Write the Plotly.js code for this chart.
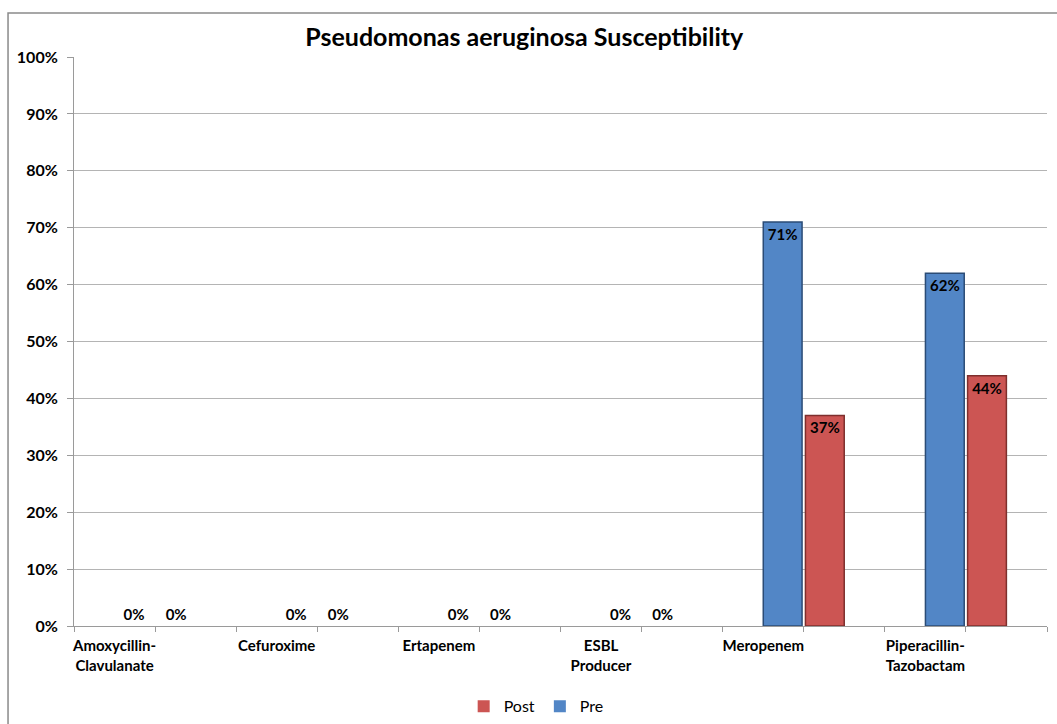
<!DOCTYPE html>
<html>
<head>
<meta charset="utf-8">
<script src="https://cdn.plot.ly/plotly-3.0.1.min.js"></script>
<style>
  body { margin: 0; background: #fff; }
  #chart { width: 1057px; height: 724px; }
</style>
</head>
<body>
<div id="chart"></div>
<script>
// categories sit between the group positions, like the Excel axis
const drugs = ["Amoxycillin-<br>Clavulanate", "Cefuroxime", "Ertapenem", "ESBL<br>Producer", "Meropenem", "Piperacillin-<br>Tazobactam"];
const groupPos = [1, 3, 5, 7, 9, 11];
const labelPos = [0.5, 2.5, 4.5, 6.5, 8.5, 10.5];
const axisTicks = [0, 1, 2, 3, 4, 5, 6, 7, 8, 9, 10, 11, 12];
const pre = [0, 0, 0, 0, 71, 62];
const post = [0, 0, 0, 0, 37, 44];

const fnt = "Lato, 'Open Sans', sans-serif";

function place(vals){
    return vals.map(v => v === 0 ? "outside" : "inside");
}
function edge(vals){
    return vals.map(v => v === 0 ? 0 : 1.5);
}
function pct(vals){
    return vals.map(v => v + "%");
}

const data = [
    {
        type: "bar", name: "Pre", x: groupPos, y: pre,
        marker: {color: "#5286C6", line: {color: "#2B4C76", width: edge(pre)}},
        text: pct(pre), textposition: place(pre), textangle: 0,
        insidetextanchor: "end", constraintext: "none",
        textfont: {family: fnt, size: 15, color: "#000", weight: "bold"},
        hoverinfo: "skip"
    },
    {
        type: "bar", name: "Post", x: groupPos, y: post,
        marker: {color: "#CC5553", line: {color: "#7E2F2D", width: edge(post)}},
        text: pct(post), textposition: place(post), textangle: 0,
        insidetextanchor: "end", constraintext: "none",
        textfont: {family: fnt, size: 15, color: "#000", weight: "bold"},
        hoverinfo: "skip"
    }
];

const layout = {
    width: 1057, height: 724,
    margin: {l: 74, r: 10, t: 57, b: 98, autoexpand: false},
    paper_bgcolor: "#fff", plot_bgcolor: "#fff",
    font: {family: fnt, color: "#000"},
    title: {
        text: "<b>Pseudomonas aeruginosa Susceptibility</b>",
        font: {family: fnt, size: 25, color: "#000"},
        x: 0.496, xanchor: "center", y: 0.948, yanchor: "middle"
    },
    barmode: "group", bargap: 0.48, bargroupgap: 0.08,
    showlegend: true,
    legend: {
        orientation: "h", traceorder: "reversed",
        x: 0.475, xanchor: "center", y: -0.141, yanchor: "middle",
        itemwidth: 30,
        font: {family: fnt, size: 16, color: "#000"}
    },
    xaxis: {
        range: [0, 12], fixedrange: true, automargin: false,
        tickmode: "array", tickvals: labelPos, ticktext: drugs,
        ticks: "", showgrid: false, zeroline: false, ticklabelstandoff: 6,
        showline: true, linecolor: "#9a9a9a", linewidth: 1,
        tickfont: {family: fnt, size: 15, color: "#000", weight: "bold"},
        minor: {tickmode: "array", tickvals: axisTicks, ticks: "outside", ticklen: 5, tickcolor: "#9a9a9a", showgrid: false}
    },
    yaxis: {
        range: [0, 100], dtick: 10, ticksuffix: "%", fixedrange: true, automargin: false,
        showgrid: true, gridcolor: "#b4b4b4", gridwidth: 1,
        zeroline: false, showline: true, linecolor: "#9a9a9a", linewidth: 1,
        ticks: "outside", ticklen: 6, tickcolor: "#9a9a9a", ticklabelstandoff: 6,
        tickfont: {family: fnt, size: 16, color: "#000", weight: "bold"}
    },
    shapes: [{
        type: "rect", xref: "paper", yref: "paper",
        x0: -0.0678, x1: 1.05, y0: -0.25, y1: 1.0773,
        line: {color: "#8a8a8a", width: 1.5}, fillcolor: "rgba(0,0,0,0)", layer: "below"
    }]
};

Plotly.newPlot("chart", data, layout, {displayModeBar: false, staticPlot: true});
</script>
</body>
</html>
